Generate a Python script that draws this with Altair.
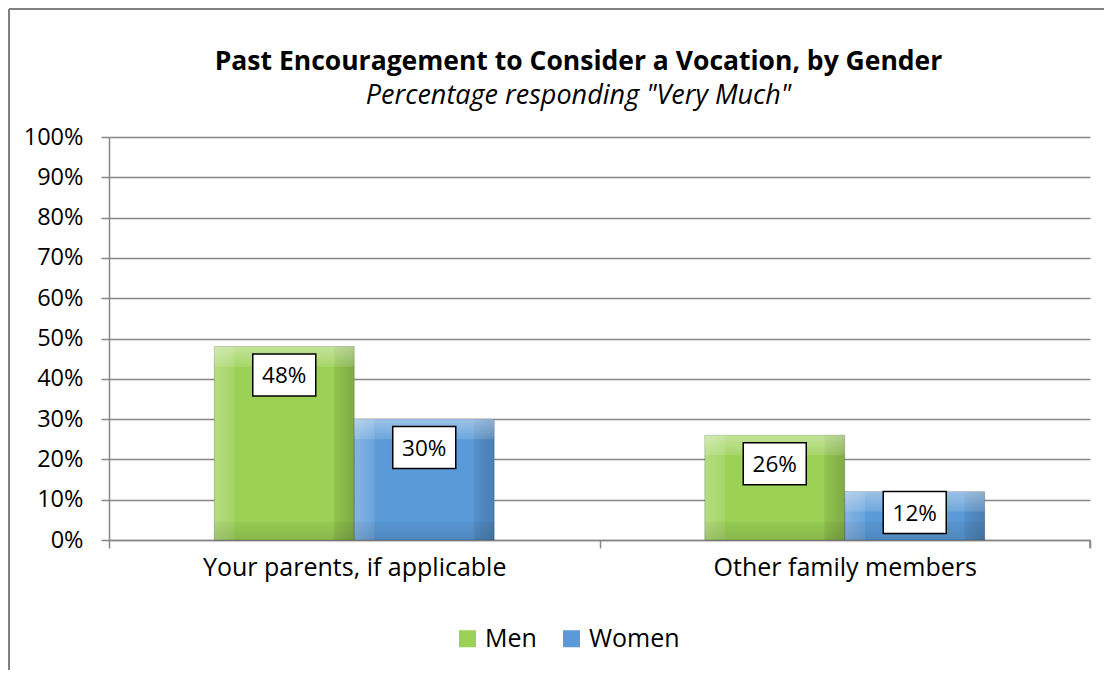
import altair as alt
import pandas as pd

# ---- data ----
categories = ["Your parents, if applicable", "Other family members"]
series = ["Men", "Women"]
men = [0.48, 0.26]
women = [0.30, 0.12]

rows = []
for i, c in enumerate(categories):
    rows.append({"category": c, "gender": "Men", "value": men[i]})
    rows.append({"category": c, "gender": "Women", "value": women[i]})
df = pd.DataFrame(rows)

FONT = "Open Sans"
W, H = 981, 403
GRID = "#878787"
GREEN = "#9bd155"
BLUE = "#5a9ad8"

xaxis = alt.Axis(title=None, labelAngle=0, tickBand="extent", grid=False,
                 labelFont=FONT, labelFontSize=25, labelColor="black", labelLimit=0,
                 labelPadding=7, tickSize=8, tickColor=GRID, tickWidth=1.5,
                 domainColor=GRID, domainWidth=1.5)
yaxis = alt.Axis(title=None, values=[i / 10 for i in range(11)], format=".0%",
                 labelFont=FONT, labelFontSize=23.5, labelColor="black",
                 labelPadding=18, tickSize=8, tickColor=GRID, tickWidth=1.5,
                 domainColor=GRID, domainWidth=1.5,
                 grid=True, gridColor=GRID, gridWidth=1.5)

xs = alt.Scale(paddingInner=0, paddingOuter=0)
ys = alt.Scale(domain=[0, 1])
X = alt.X("category:N", sort=categories, scale=xs, axis=xaxis)
XO = alt.XOffset("gender:N", sort=series,
                 scale=alt.Scale(domain=series, paddingInner=0, paddingOuter=0.752))

base = alt.Chart(df).transform_calculate(
    lo="datum.value - 0.05",
    bot="min(0.045, datum.value / 2)",
    lab="max(datum.value - 0.0705, 0.068)",
)

bars = base.mark_bar().encode(
    x=X, xOffset=XO,
    y=alt.Y("value:Q", scale=ys, axis=yaxis),
    color=alt.Color("gender:N", scale=alt.Scale(domain=series, range=[GREEN, BLUE]),
                    legend=alt.Legend(title=None, orient="none", legendX=346, legendY=489,
                                      direction="horizontal", symbolType="square",
                                      symbolSize=289, symbolStrokeWidth=0, symbolOpacity=1,
                                      labelFont=FONT, labelFontSize=25, labelColor="black",
                                      labelOffset=5, columnPadding=22)),
)

edge_grad = alt.Gradient(
    gradient="linear", x1=0, y1=0, x2=1, y2=0,
    stops=[
        alt.GradientStop(offset=0, color="rgba(255,255,255,0.26)"),
        alt.GradientStop(offset=0.14, color="rgba(255,255,255,0.10)"),
        alt.GradientStop(offset=0.15, color="rgba(255,255,255,0)"),
        alt.GradientStop(offset=0.85, color="rgba(0,0,0,0)"),
        alt.GradientStop(offset=0.86, color="rgba(0,0,0,0.07)"),
        alt.GradientStop(offset=1, color="rgba(0,0,0,0.18)"),
    ],
)
top_grad = alt.Gradient(
    gradient="linear", x1=0, y1=0, x2=0, y2=1,
    stops=[
        alt.GradientStop(offset=0, color="rgba(255,255,255,0.40)"),
        alt.GradientStop(offset=1, color="rgba(255,255,255,0.12)"),
    ],
)
bot_grad = alt.Gradient(
    gradient="linear", x1=0, y1=0, x2=0, y2=1,
    stops=[
        alt.GradientStop(offset=0, color="rgba(0,0,0,0.04)"),
        alt.GradientStop(offset=1, color="rgba(0,0,0,0.12)"),
    ],
)
edges = base.mark_bar(fill=edge_grad, stroke="rgba(0,0,0,0.18)", strokeWidth=1).encode(
    x=X, xOffset=XO, y=alt.Y("value:Q", scale=ys, axis=yaxis),
)
top_strip = base.mark_bar(fill=top_grad).encode(
    x=X, xOffset=XO, y=alt.Y("value:Q", scale=ys, axis=yaxis), y2="lo:Q",
)
bottom_strip = base.mark_bar(fill=bot_grad).encode(
    x=X, xOffset=XO, y=alt.Y("bot:Q", scale=ys, axis=yaxis), y2=alt.datum(0),
)

boxes = base.mark_point(shape="M-1.5,-1L1.5,-1L1.5,1L-1.5,1Z", size=1764, filled=True,
                        fill="white", stroke="black", strokeWidth=1.5, opacity=1).encode(
    x=X, xOffset=XO, y=alt.Y("lab:Q", scale=ys, axis=yaxis),
)
labels = base.mark_text(font=FONT, fontSize=22.5, color="black", baseline="middle",
                        align="center", dy=1).encode(
    x=X, xOffset=XO, y=alt.Y("lab:Q", scale=ys, axis=yaxis),
    text=alt.Text("value:Q", format=".0%"),
)

one = alt.Data(values=[{"k": 1}])
end_tick = alt.Chart(one).mark_rule(color=GRID, strokeWidth=1.5).encode(
    x=alt.value(W), y=alt.value(H), y2=alt.value(H + 8))
frame_left = alt.Chart(one).mark_rule(color="#808080", strokeWidth=2).encode(
    x=alt.value(-100), y=alt.value(-128), y2=alt.value(H + 140))
frame_top = alt.Chart(one).mark_rule(color="#808080", strokeWidth=2).encode(
    x=alt.value(-100), x2=alt.value(W + 20), y=alt.value(-128))

chart = alt.layer(
    bars, edges, top_strip, bottom_strip, boxes, labels, end_tick, frame_left, frame_top
).properties(
    width=W, height=H,
    autosize=alt.AutoSizeParams(type="none"),
    padding={"left": 101, "top": 129, "right": 14, "bottom": 130},
    title=alt.TitleParams(
        text="Past Encouragement to Consider a Vocation, by Gender",
        subtitle='Percentage responding "Very Much"',
        font=FONT, fontSize=26.5, fontWeight="bold", color="black",
        subtitleFont=FONT, subtitleFontSize=27, subtitleFontStyle="italic",
        subtitleColor="black", subtitlePadding=8,
        anchor="middle", frame="group", dx=-21, offset=-101,
    ),
).configure_view(stroke=None)

chart.save("out.html", embed_options={"renderer": "svg", "actions": False})
